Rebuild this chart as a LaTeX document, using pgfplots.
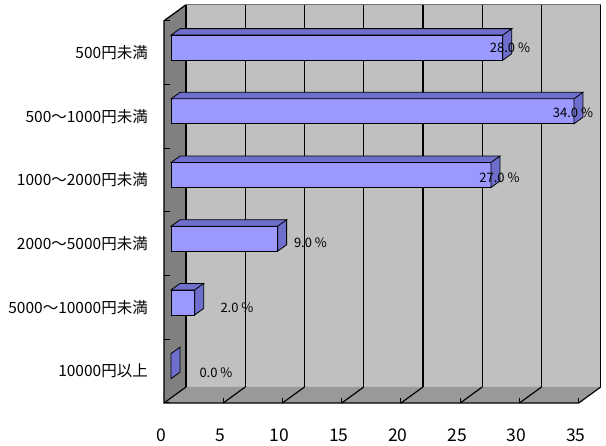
\documentclass[border=0pt]{standalone}
\usepackage{pgfplots}
\pgfplotsset{compat=1.18}
\usepackage{pgfplotstable}
\usepackage{fontspec}
\setmainfont{Noto Sans CJK JP}
\definecolor{wallc}{HTML}{C0C0C0}
\definecolor{sidec}{HTML}{808080}
\definecolor{floorc}{HTML}{999999}
\definecolor{barfront}{HTML}{9999FF}
\definecolor{barside}{HTML}{6E6ECC}

\pgfplotstableread{
c v
0 0
1 2
2 9
3 27
4 34
5 28
}\data

\pgfdeclareplotmark{barcap}{%
  \pgfmathsetmacro\xa{9-\barval*11.85}%
  \pgfmathsetmacro\xb{-\barval*11.85}%
  \pgfsetlinewidth{0.8pt}%
  \pgfsetstrokecolor{black}%
  \pgfsetfillcolor{barside}%
  \pgfpathmoveto{\pgfpoint{0pt}{-12.5pt}}%
  \pgfpathlineto{\pgfpoint{9pt}{-6pt}}%
  \pgfpathlineto{\pgfpoint{9pt}{19pt}}%
  \pgfpathlineto{\pgfpoint{0pt}{12.5pt}}%
  \pgfpathclose
  \pgfpathmoveto{\pgfpoint{0pt}{12.5pt}}%
  \pgfpathlineto{\pgfpoint{9pt}{19pt}}%
  \pgfpathlineto{\pgfpoint{\xa pt}{19pt}}%
  \pgfpathlineto{\pgfpoint{\xb pt}{12.5pt}}%
  \pgfpathclose
  \pgfusepath{fill,stroke}%
}

\newcommand\B[2]{([xshift=15pt,yshift=11pt]axis cs:#1,#2)}
\newcommand\F[2]{([xshift=-7pt,yshift=-5pt]axis cs:#1,#2)}
\newcommand\FT[2]{([xshift=-7pt,yshift=0pt]axis cs:#1,#2)}
\newcommand\FR[2]{([xshift=-1pt,yshift=-5pt]axis cs:#1,#2)}

\begin{document}
\begin{tikzpicture}
\path[use as bounding box] (0,0) rectangle (606pt,446pt);
\begin{axis}[
  at={(171pt,48pt)}, anchor=south west,
  x=11.85pt, y=63.7pt,
  xmin=0, xmax=35, ymin=-0.5, ymax=5.5,
  enlargelimits=false,
  clip=false,
  axis line style={draw=none},
  major tick length=0pt,
  tick style={draw=none},
  xtick={0,5,10,15,20,25,30,35},
  ytick={0,1,2,3,4,5},
  yticklabels={10000円以上, 5000～10000円未満, 2000～5000円未満, 1000～2000円未満, 500～1000円未満, 500円未満},
  xticklabel style={anchor=center, xshift=-10pt, yshift=-37pt, font=\fontsize{17.5}{20}\selectfont},
  yticklabel style={anchor=east, inner sep=0pt, xshift=-23pt, yshift=-5pt, font=\fontsize{15.5}{18}\selectfont},
  /pgf/number format/assume math mode=true,
]
% back wall
\fill[wallc] \B{0}{-0.5} rectangle \B{35}{5.5};
% side wall
\fill[sidec] \F{0}{-0.5} -- \F{0}{5.5} -- \B{0}{5.5} -- \B{0}{-0.5} -- cycle;
% floor
\fill[floorc] \F{0}{-0.5} -- \F{35}{-0.5} -- \B{35}{-0.5} -- \B{0}{-0.5} -- cycle;
\draw[black!55, line width=0.8pt] \B{0}{5.5} -- \B{35}{5.5};
\pgfplotsinvokeforeach{0,5,10,15,20,25,30,35}{
  \draw[line width=1.2pt] \B{#1}{-0.5} -- \B{#1}{5.5};
  \draw[line width=1.2pt] \F{#1}{-0.5} -- \B{#1}{-0.5};
}
\pgfplotsinvokeforeach{5,10,15,20,25,30,35}{
  \draw[line width=1pt] \F{#1}{-0.5} -- \FT{#1}{-0.5};
}
\pgfplotsinvokeforeach{-0.5,0.5,1.5,2.5,3.5,4.5,5.5}{
  \draw[line width=1pt] \F{0}{#1} -- \FR{0}{#1};
}
\draw[line width=1.3pt] \F{35}{-0.5} -- \F{0}{-0.5} -- \F{0}{5.5} -- \B{0}{5.5};
% bars
\addplot[xbar, bar width=25pt, fill=barfront, draw=black, line width=0.8pt] table[x=v, y=c]{\data};
\addplot[only marks, mark=barcap, visualization depends on={\thisrow{v}\as\barval}] table[x=v, y=c]{\data};
% value labels
\addplot[only marks, mark=none, point meta=\thisrow{v},
  nodes near coords={\pgfmathprintnumber[fixed, fixed zerofill, precision=1]{\pgfplotspointmeta} \%},
  every node near coord/.append style={anchor=center, text=black, inner sep=0pt, font=\fontsize{13}{15}\selectfont}]
  table[x expr=3.797+0.8861*\thisrow{v}, y expr=\thisrow{c}-0.00785-0.02*(5-\thisrow{c})]{\data};
\end{axis}
\end{tikzpicture}
\end{document}
